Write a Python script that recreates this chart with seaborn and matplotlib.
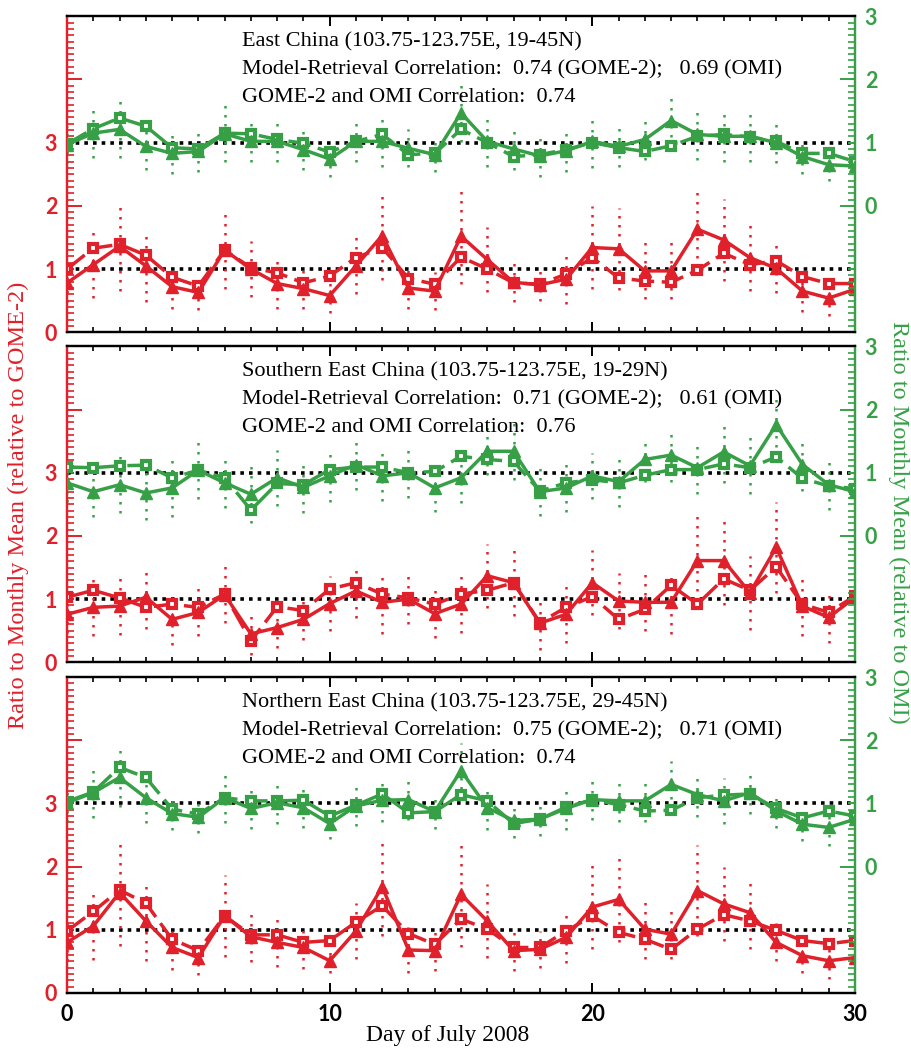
import numpy as np
import matplotlib
matplotlib.use("Agg")
import matplotlib.pyplot as plt
from matplotlib.ticker import MultipleLocator
import seaborn as sns

# days of July 2008
days = list(range(31))

# ratio to monthly mean, relative to GOME-2 (red, left axis)
# solid triangles / dashed squares / half length of dotted bars
east_g_tri = [0.78, 1.07, 1.36, 1.05, 0.72, 0.63, 1.30, 1.00, 0.77, 0.69, 0.58, 1.05, 1.53, 0.70, 0.65, 1.52,
              1.15, 0.79, 0.75, 0.84, 1.34, 1.32, 0.97, 0.97, 1.63, 1.46, 1.18, 1.01, 0.65, 0.54, 0.68]
east_g_sq = [1.00, 1.33, 1.39, 1.22, 0.87, 0.73, 1.30, 1.02, 0.94, 0.78, 0.89, 1.18, 1.34, 0.85, 0.76, 1.19,
             1.00, 0.78, 0.76, 0.92, 1.18, 0.86, 0.81, 0.79, 0.98, 1.25, 1.07, 1.13, 0.88, 0.77, 0.77]
east_g_err = [0.30, 0.53, 0.70, 0.57, 0.35, 0.28, 0.62, 0.45, 0.40, 0.32, 0.28, 0.45, 0.71, 0.33, 0.30, 0.76,
              0.52, 0.31, 0.25, 0.39, 0.65, 0.65, 0.45, 0.45, 0.60, 0.65, 0.52, 0.39, 0.33, 0.28, 0.25]

south_g_tri = [0.76, 0.87, 0.89, 1.03, 0.68, 0.79, 1.07, 0.45, 0.55, 0.68, 0.93, 1.13, 0.95, 1.00, 0.77, 0.92,
               1.37, 1.26, 0.62, 0.76, 1.26, 0.97, 0.95, 0.95, 1.61, 1.61, 1.10, 1.82, 0.89, 0.71, 1.03]
south_g_sq = [1.03, 1.14, 1.02, 0.87, 0.92, 0.87, 1.08, 0.34, 0.88, 0.82, 1.16, 1.26, 1.08, 1.02, 0.92, 1.08,
              1.14, 1.26, 0.63, 0.87, 1.04, 0.68, 0.84, 1.22, 0.92, 1.32, 1.14, 1.51, 0.92, 0.79, 1.05]
south_g_err = [0.30, 0.45, 0.45, 0.50, 0.40, 0.38, 0.45, 0.33, 0.33, 0.32, 0.43, 0.43, 0.50, 0.40, 0.38, 0.45,
               0.51, 0.52, 0.43, 0.45, 0.51, 0.45, 0.45, 0.50, 0.76, 0.70, 0.59, 0.72, 0.47, 0.40, 0.30]

north_g_tri = [0.80, 1.06, 1.59, 1.14, 0.72, 0.56, 1.22, 0.89, 0.80, 0.72, 0.51, 0.98, 1.68, 0.68, 0.67, 1.56,
               1.14, 0.67, 0.69, 0.88, 1.36, 1.48, 1.01, 0.93, 1.62, 1.41, 1.27, 0.80, 0.59, 0.51, 0.56]
north_g_sq = [0.98, 1.29, 1.63, 1.42, 0.85, 0.67, 1.22, 0.92, 0.92, 0.80, 0.83, 1.12, 1.38, 0.94, 0.77, 1.17,
              1.01, 0.72, 0.72, 0.98, 1.22, 0.96, 0.85, 0.69, 1.01, 1.24, 1.14, 0.99, 0.83, 0.78, 0.83]
north_g_err = [0.30, 0.54, 0.84, 0.63, 0.35, 0.27, 0.65, 0.40, 0.39, 0.34, 0.20, 0.45, 0.78, 0.36, 0.33, 0.84,
               0.59, 0.33, 0.29, 0.40, 0.66, 0.68, 0.47, 0.40, 0.72, 0.58, 0.57, 0.30, 0.28, 0.29, 0.25]

# ratio to monthly mean, relative to OMI (green, right axis)
east_o_tri = [0.97, 1.15, 1.21, 0.94, 0.83, 0.86, 1.14, 1.02, 1.02, 0.89, 0.74, 1.02, 1.02, 0.91, 0.81, 1.47,
              1.02, 0.90, 0.79, 0.87, 1.02, 0.94, 1.05, 1.35, 1.13, 1.10, 1.10, 1.00, 0.78, 0.65, 0.63]
east_o_sq = [0.98, 1.22, 1.39, 1.26, 0.92, 0.90, 1.15, 1.14, 1.05, 0.99, 0.85, 1.02, 1.13, 0.81, 0.83, 1.21,
             1.00, 0.78, 0.81, 0.89, 1.00, 0.92, 0.86, 0.95, 1.10, 1.13, 1.09, 1.02, 0.83, 0.83, 0.70]
east_o_err = [0.30, 0.40, 0.45, 0.37, 0.33, 0.33, 0.45, 0.33, 0.33, 0.32, 0.28, 0.33, 0.40, 0.30, 0.28, 0.46,
              0.40, 0.34, 0.33, 0.33, 0.42, 0.33, 0.32, 0.40, 0.40, 0.40, 0.40, 0.33, 0.27, 0.25, 0.25]

south_o_tri = [0.84, 0.70, 0.81, 0.68, 0.76, 1.04, 0.84, 0.66, 0.92, 0.77, 0.95, 1.13, 0.95, 1.00, 0.76, 0.92,
               1.34, 1.34, 0.70, 0.76, 0.95, 0.86, 1.21, 1.28, 1.08, 1.33, 1.11, 1.76, 1.13, 0.81, 0.70]
south_o_sq = [1.09, 1.08, 1.11, 1.12, 0.92, 1.04, 0.92, 0.41, 0.83, 0.81, 1.05, 1.09, 1.09, 1.00, 1.02, 1.26,
              1.21, 1.18, 0.71, 0.84, 0.89, 0.84, 0.96, 1.05, 1.05, 1.14, 1.08, 1.25, 0.91, 0.79, 0.75]
south_o_err = [0.30, 0.40, 0.45, 0.43, 0.46, 0.45, 0.40, 0.45, 0.44, 0.40, 0.41, 0.40, 0.40, 0.40, 0.38, 0.40,
               0.38, 0.45, 0.38, 0.38, 0.37, 0.40, 0.35, 0.42, 0.42, 0.50, 0.45, 0.50, 0.42, 0.40, 0.30]

north_o_tri = [1.01, 1.17, 1.41, 1.09, 0.84, 0.78, 1.09, 0.92, 1.01, 0.93, 0.68, 0.96, 1.05, 1.06, 0.87, 1.52,
               0.93, 0.73, 0.75, 0.92, 1.06, 1.04, 1.04, 1.30, 1.14, 1.04, 1.17, 0.88, 0.67, 0.62, 0.75]
north_o_sq = [1.03, 1.18, 1.57, 1.41, 0.91, 0.83, 1.09, 1.04, 1.04, 1.05, 0.80, 0.97, 1.15, 0.85, 0.87, 1.14,
              1.04, 0.68, 0.75, 0.94, 1.06, 0.98, 0.88, 0.89, 1.09, 1.13, 1.15, 0.92, 0.77, 0.88, 0.80]
north_o_err = [0.30, 0.40, 0.46, 0.40, 0.26, 0.25, 0.40, 0.32, 0.33, 0.32, 0.25, 0.32, 0.35, 0.32, 0.27, 0.44,
               0.35, 0.27, 0.27, 0.34, 0.33, 0.34, 0.34, 0.37, 0.35, 0.36, 0.33, 0.27, 0.27, 0.29, 0.25]

region_titles = ["East China (103.75-123.75E, 19-45N)",
                 "Southern East China (103.75-123.75E, 19-29N)",
                 "Northern East China (103.75-123.75E, 29-45N)"]
corr_gome = ["0.74", "0.71", "0.75"]
corr_omi = ["0.69", "0.61", "0.71"]
corr_both = ["0.74", "0.76", "0.74"]

left_ticks = [0, 1, 2, 3, 4, 5]
left_ticklabels = ["0", "1", "2", "3", "", ""]
right_ticks = [-2, -1, 0, 1, 2, 3]
right_ticklabels = ["", "", "0", "1", "2", "3"]

RED = "#e0202a"
GREEN = "#37a047"

sns.set_theme(style="ticks")
plt.rcParams["font.family"] = ["Liberation Serif", "DejaVu Serif"]

fig = plt.figure(figsize=(9.12, 10.48), dpi=100)
panel_bottoms = [0.683, 0.368, 0.0525]
panel_h = 0.3015

tickfont = {"family": "Lato", "weight": "bold", "size": 15.5}


def style_yaxis(ax, color, ticks, labels, long_vals, side):
    ax.set_yticks(ticks)
    ax.set_yticklabels(labels, fontdict=tickfont, color=color)
    ax.yaxis.set_minor_locator(MultipleLocator(0.1))
    ax.tick_params(axis="y", which="major", direction="in", length=11, width=1.4,
                   color=color, pad=7, left=(side == "left"), right=(side == "right"),
                   labelleft=(side == "left"), labelright=(side == "right"))
    ax.tick_params(axis="y", which="minor", direction="in", length=5, width=1.2,
                   color=color, left=(side == "left"), right=(side == "right"))
    for t, v in zip(ax.yaxis.get_major_ticks(), ticks):
        if v not in long_vals:
            t.tick1line.set_markersize(5)
            t.tick2line.set_markersize(5)


def draw_series(ax, tri, sq, err, color):
    lo = np.array(tri) - np.array(err)
    hi = np.array(tri) + np.array(err)
    ax.vlines(days, lo, hi, colors=color, linewidth=1.8,
              linestyles=(0, (1, 2.6)), zorder=2)
    sns.lineplot(x=days, y=sq, ax=ax, color=color, linewidth=2.5,
                 linestyle=(0, (6.5, 2.2)), marker="s", markersize=6,
                 markerfacecolor="white", markeredgecolor=color,
                 markeredgewidth=3, zorder=3)
    sns.lineplot(x=days, y=tri, ax=ax, color=color, linewidth=2.5,
                 marker="^", markersize=9, markerfacecolor=color,
                 markeredgecolor=color, markeredgewidth=1, zorder=4)


panels = [
    (east_g_tri, east_g_sq, east_g_err, east_o_tri, east_o_sq, east_o_err),
    (south_g_tri, south_g_sq, south_g_err, south_o_tri, south_o_sq, south_o_err),
    (north_g_tri, north_g_sq, north_g_err, north_o_tri, north_o_sq, north_o_err),
]

for i, (gt, gs, ge, ot, osq, oe) in enumerate(panels):
    ax = fig.add_axes([0.0735, panel_bottoms[i], 0.864, panel_h])
    ax.set_facecolor("white")
    ax2 = ax.twinx()

    ax.set_xlim(0, 30)
    ax.set_ylim(0, 5)
    ax2.set_ylim(-2, 3)

    # reference ratio = 1 lines
    ax.axhline(1, color="black", linewidth=2.6, linestyle=(0, (1, 1.4)),
               dash_capstyle="butt", zorder=1)
    ax.axhline(3, color="black", linewidth=2.6, linestyle=(0, (1, 1.4)),
               dash_capstyle="butt", zorder=1)

    draw_series(ax, gt, gs, ge, RED)
    draw_series(ax2, ot, osq, oe, GREEN)

    for a in (ax, ax2):
        a.set_xlabel("")
        a.set_ylabel("")
        a.grid(False)
        a.spines["left"].set_color(RED)
        a.spines["right"].set_color(GREEN)
        a.spines["top"].set_color("black")
        a.spines["bottom"].set_color("black")
        for s in a.spines.values():
            s.set_linewidth(1.6)
            s.set_visible(True)

    style_yaxis(ax, RED, left_ticks, left_ticklabels, (0, 2, 4), "left")
    style_yaxis(ax2, GREEN, right_ticks, right_ticklabels, (-2, 0, 2), "right")

    ax.set_xticks([0, 10, 20, 30])
    ax.xaxis.set_minor_locator(MultipleLocator(1))
    ax.tick_params(axis="x", which="major", direction="in", length=7, width=1.4,
                   color="black", top=True, bottom=True, pad=8,
                   labelbottom=(i == 2))
    ax.tick_params(axis="x", which="minor", direction="in", length=3.5, width=1.2,
                   color="black", top=True, bottom=True)
    if i == 2:
        ax.set_xticklabels(["0", "10", "20", "30"], fontdict=tickfont, color="black")
    ax2.tick_params(axis="x", which="both", top=False, bottom=False)

    lines = [region_titles[i],
             "Model-Retrieval Correlation:  %s (GOME-2);   %s (OMI)" % (corr_gome[i], corr_omi[i]),
             "GOME-2 and OMI Correlation:  %s" % corr_both[i]]
    for k, txt in enumerate(lines):
        ax2.text(0.222, 0.918 - 0.088 * k, txt, transform=ax.transAxes,
                 fontsize=16, color="black", ha="left", va="center", zorder=6)

fig.text(0.02, 0.518, "Ratio to Monthly Mean (relative to GOME-2)", color=RED,
         rotation=90, ha="center", va="center", fontsize=17.5)
fig.text(0.985, 0.502, "Ratio to Monthly Mean (relative to OMI)", color=GREEN,
         rotation=270, ha="center", va="center", fontsize=17.5)
fig.text(0.491, 0.012, "Day of July 2008", color="black",
         ha="center", va="center", fontsize=17)

fig.savefig("out.png", dpi=100, facecolor="white")
